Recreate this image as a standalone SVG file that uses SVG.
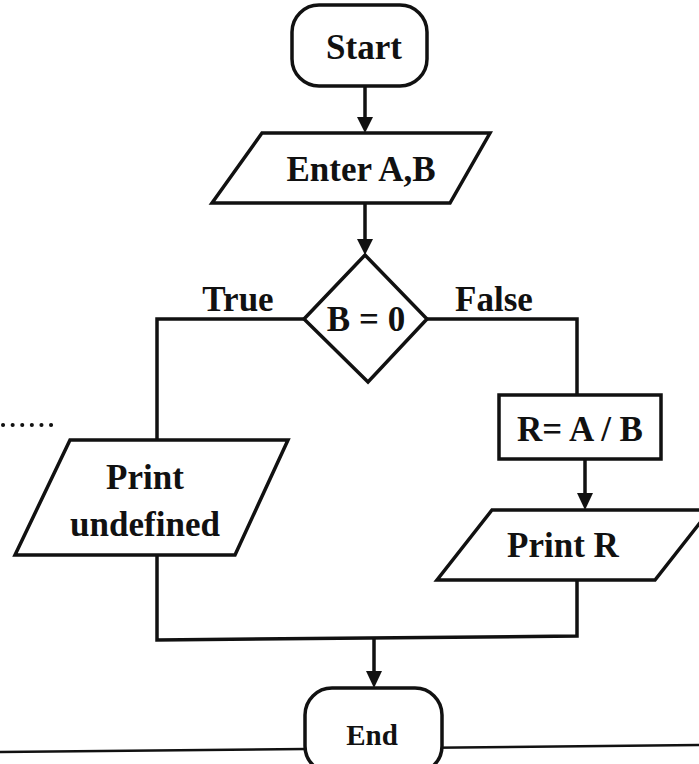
<svg xmlns="http://www.w3.org/2000/svg" width="699" height="764" viewBox="0 0 699 764">
<style>
.s{fill:#fff;stroke:#111;stroke-width:3.5;stroke-linejoin:miter}
.c{fill:none;stroke:#111;stroke-width:3.5}
.a{fill:#111}
.t{font-family:"Liberation Serif","Times New Roman",serif;font-weight:bold;font-size:35px;fill:#111;text-anchor:middle}
</style>
<rect width="699" height="764" fill="#fff"/>
<line x1="0" y1="752" x2="699" y2="745" stroke="#111" stroke-width="2.5"/>
<line x1="3" y1="425" x2="58" y2="425" stroke="#111" stroke-width="4" stroke-dasharray="0.1 9.5" stroke-linecap="round"/>
<g id="connectors">
<line class="c" x1="365" y1="86" x2="365" y2="118"/><path class="a" d="M357,117 L373,117 L365,133 Z"/>
<line class="c" x1="365" y1="203" x2="365" y2="240"/><path class="a" d="M357,239 L373,239 L365,255 Z"/>
<polyline class="c" points="304,319 157,319 157,440"/>
<polyline class="c" points="427,319 577,319 577,395"/>
<line class="c" x1="585" y1="459" x2="585" y2="494"/><path class="a" d="M577,493 L593,493 L585,510 Z"/>
<polyline class="c" points="157,555 157,640 577,636 577,580"/>
<line class="c" x1="374" y1="638" x2="374" y2="672"/><path class="a" d="M366,671 L382,671 L374,688 Z"/>
</g>
<g id="start"><rect class="s" x="292" y="5" width="135" height="81" rx="27"/><text class="t" x="364" y="59">Start</text></g>
<g id="input"><polygon class="s" points="262,133 490,133 450,203 212,203"/><text class="t" x="361" y="181">Enter A,B</text></g>
<g id="decision"><polygon class="s" points="365,255 427,319 368,382 304,319"/><text class="t" x="366" y="331">B = 0</text></g>
<g id="labels"><text class="t" x="238" y="311">True</text><text class="t" x="494" y="311">False</text></g>
<g id="undefined"><polygon class="s" points="70,440 288,440 235,555 15,555"/><text class="t" x="145" y="489">Print</text><text class="t" x="145" y="536">undefined</text></g>
<g id="calc"><rect class="s" x="499" y="395" width="162" height="64"/><text class="t" x="580" y="441">R= A / B</text></g>
<g id="printr"><polygon class="s" points="492,510 710,510 655,580 437,580"/><text class="t" x="563" y="557">Print R</text></g>
<g id="end"><rect class="s" x="305" y="688" width="137" height="85" rx="27"/><text class="t" x="372" y="745" style="font-size:29px">End</text></g>
</svg>
